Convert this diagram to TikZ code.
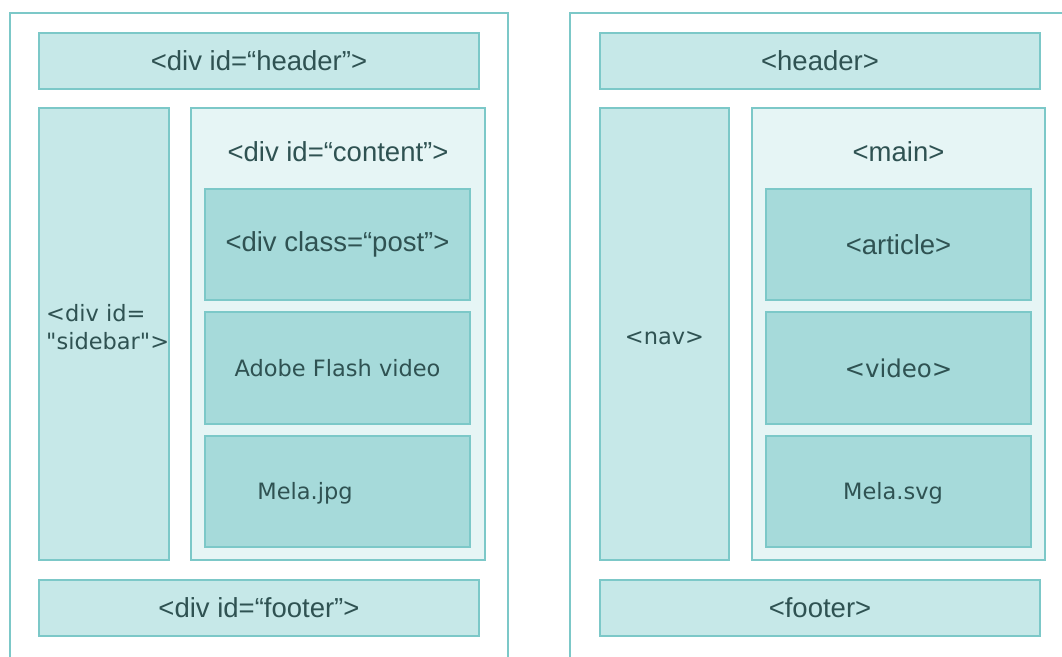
\documentclass[tikz,border=0pt]{standalone}
\usepackage{fontspec}
\setmainfont{Liberation Sans}
\newfontfamily\dvfont{DejaVu Sans}
\definecolor{edge}{HTML}{7CC8C8}
\definecolor{lightfill}{HTML}{C6E8E8}
\definecolor{palefill}{HTML}{E6F5F5}
\definecolor{midfill}{HTML}{A6DADA}
\definecolor{txt}{HTML}{2F5252}
\tikzset{
  outerbox/.style={draw=edge, line width=2pt, fill=white},
  box/.style={draw=edge, line width=2pt, inner sep=0pt, outer sep=0pt, text=txt},
  lightbox/.style={box, fill=lightfill},
  palebox/.style={box, fill=palefill},
  midbox/.style={box, fill=midfill},
  helv/.style={font=\fontsize{27.5}{32}\selectfont},
  dv/.style={font=\dvfont\fontsize{22.5}{28}\selectfont},
  lbl/.style={text=txt, inner sep=0pt}
}
\begin{document}
\begin{tikzpicture}[x=1pt,y=-1pt]
\useasboundingbox (0,0) rectangle (1062,656);
\clip (0,0) rectangle (1062,656);
\fill[white] (0,0) rectangle (1062,656);
% left panel
\draw[outerbox] (10,13) rectangle (508,720);
\node[lightbox, helv, minimum width=440, minimum height=56] (lhead) at (259,61) {<div id=“header”>};
\node[lightbox, minimum width=130, minimum height=452] (side) at (104,334) {};
\node[palebox, minimum width=294, minimum height=452] (content) at (338,334) {};
\node[lbl, helv] (contentlbl) at (338,152) {<div id=“content”>};
\node[midbox, helv, minimum width=265, minimum height=111] (post) at (337.5,244.5) {<div class=“post”>};
\node[midbox, dv, minimum width=265, minimum height=112] (flash) at (337.5,368) {Adobe Flash video};
\node[midbox, minimum width=265, minimum height=111] (jpg) at (337.5,491.5) {};
\node[lbl, dv] (jpglbl) at (305,493) {Mela.jpg};
\node[lbl, align=left, anchor=west, font=\dvfont\fontsize{22.5}{28}\selectfont] (sidelbl) at (46,327) {<div id=\\"sidebar">};
\node[lightbox, helv, minimum width=440, minimum height=56] (lfoot) at (259,608) {<div id=“footer”>};
% right panel
\draw[outerbox] (570,13) rectangle (1100,720);
\node[lightbox, helv, minimum width=440, minimum height=56] (rhead) at (820,61) {<header>};
\node[lightbox, minimum width=129, minimum height=452] (nav) at (664.5,334) {};
\node[lbl, dv] (navlbl) at (664.5,338) {<nav>};
\node[palebox, minimum width=293, minimum height=452] (main) at (898.5,334) {};
\node[lbl, helv] (mainlbl) at (898.5,152) {<main>};
\node[midbox, helv, minimum width=265, minimum height=111] (article) at (898.5,244.5) {<article>};
\node[midbox, font=\dvfont\fontsize{24.5}{28}\selectfont, minimum width=265, minimum height=112] (video) at (898.5,368) {<video>};
\node[midbox, minimum width=265, minimum height=111] (svg) at (898.5,491.5) {};
\node[lbl, dv] (svglbl) at (893,493) {Mela.svg};
\node[lightbox, helv, minimum width=440, minimum height=56] (rfoot) at (820,608) {<footer>};
\end{tikzpicture}
\end{document}
